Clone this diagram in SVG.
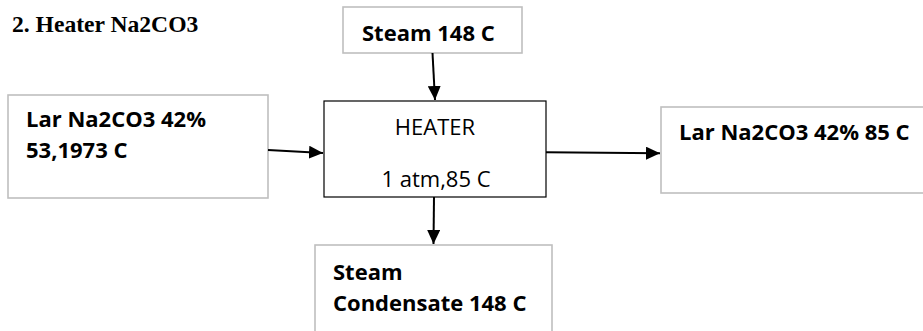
<svg xmlns="http://www.w3.org/2000/svg" width="923" height="331" viewBox="0 0 923 331">
<style>
.title{font-family:"Liberation Serif","Times New Roman",serif;font-weight:bold;font-size:23.6px;fill:#000}
.lbl{font-family:"Open Sans","Noto Sans",sans-serif;font-weight:bold;font-size:22px;fill:#000}
.reg{font-family:"Open Sans","Noto Sans",sans-serif;font-size:22px;fill:#000}
.gbox{fill:#fff;stroke:#bfbfbf;stroke-width:1.6}
.kbox{fill:#fff;stroke:#000;stroke-width:1.2}
.conn{stroke:#000;stroke-width:2;fill:none}
</style>
<defs>
<marker id="ah" markerUnits="userSpaceOnUse" markerWidth="15" markerHeight="13" refX="14" refY="6.5" orient="auto">
<path d="M0,0 L14,6.5 L0,13 z" fill="#000"/>
</marker>
</defs>
<rect width="923" height="331" fill="#fff"/>
<text class="title" x="12" y="31.5">2. Heater Na2CO3</text>
<g id="steam-in">
<rect class="gbox" x="343" y="7" width="179" height="46"/>
<text class="lbl" x="362" y="41">Steam 148 C</text>
</g>
<g id="feed">
<rect class="gbox" x="8" y="95" width="260" height="103"/>
<text class="lbl" x="26" y="127">Lar Na2CO3 42%</text>
<text class="lbl" x="26" y="158">53,1973 C</text>
</g>
<g id="heater">
<rect class="kbox" x="324" y="101" width="222" height="96"/>
<text class="reg" x="435" y="135" text-anchor="middle">HEATER</text>
<text class="reg" x="436" y="187" text-anchor="middle">1 atm,85 C</text>
</g>
<g id="product">
<rect class="gbox" x="661" y="107" width="280" height="86"/>
<text class="lbl" x="679" y="140">Lar Na2CO3 42% 85 C</text>
</g>
<g id="condensate">
<rect class="gbox" x="315" y="245" width="237" height="100"/>
<text class="lbl" x="333" y="280">Steam</text>
<text class="lbl" x="333" y="311">Condensate 148 C</text>
</g>
<g id="connectors">
<line class="conn" x1="432.5" y1="53" x2="435" y2="100" marker-end="url(#ah)"/>
<line class="conn" x1="268" y1="150" x2="323" y2="153" marker-end="url(#ah)"/>
<line class="conn" x1="546" y1="152.3" x2="660" y2="153.3" marker-end="url(#ah)"/>
<line class="conn" x1="434" y1="197" x2="433.5" y2="244" marker-end="url(#ah)"/>
</g>
</svg>
